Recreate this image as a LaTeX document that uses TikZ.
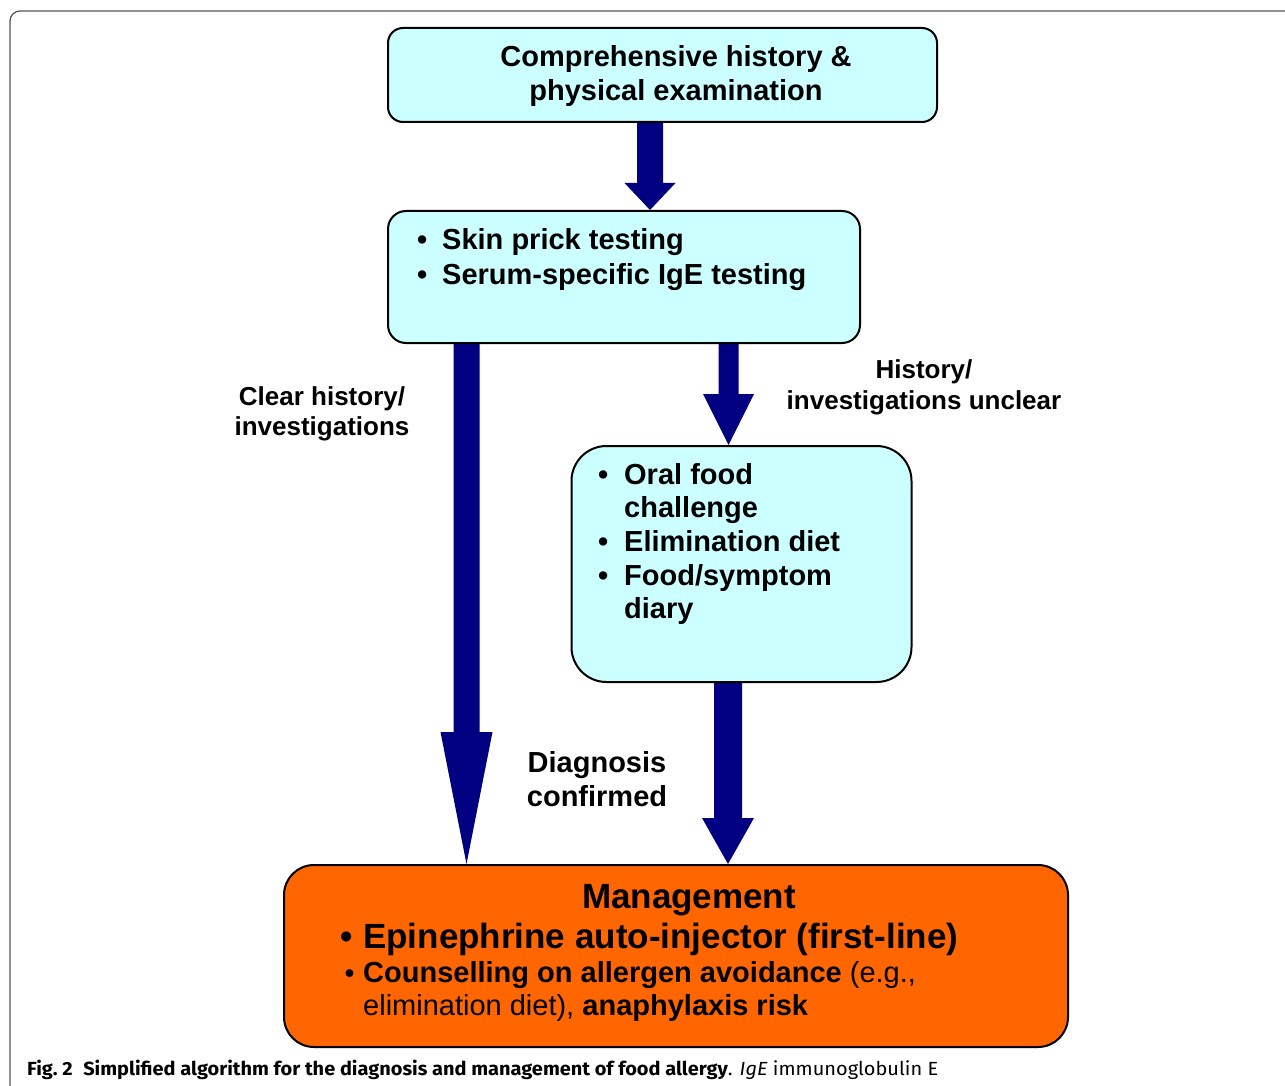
\documentclass[tikz,border=0pt]{standalone}
\usepackage{fontspec}
\setmainfont{Liberation Sans}
\newfontfamily\capfont{Fira Sans}
\usepackage{graphicx}
\usetikzlibrary{calc}
\definecolor{boxcyan}{HTML}{CCFFFF}
\definecolor{arrownavy}{HTML}{000080}
\definecolor{mgmtorange}{HTML}{FF6600}
\definecolor{framegray}{HTML}{555555}
\pgfdeclarelayer{bg}
\pgfsetlayers{bg,main}
\newcommand\fatarrow[6]{% x, from, to, shaft half, head half, head length
  \fill[arrownavy] let \p1=(#2), \p2=(#3) in
  (#1pt-#4pt,\y1) -- (#1pt+#4pt,\y1) -- (#1pt+#4pt,\y2+#6pt) -- (#1pt+#5pt,\y2+#6pt)
  -- (#1pt,\y2) -- (#1pt-#5pt,\y2+#6pt) -- (#1pt-#4pt,\y2+#6pt) -- cycle;}
\newcommand\bulA{\llap{\textbullet\hspace{15pt}}}
\newcommand\bulB{\llap{\textbullet\hspace{16pt}}}
\tikzset{
  flowbox/.style={draw=black, line width=2pt, fill=boxcyan, inner sep=0pt},
  mgmtbox/.style={flowbox, fill=mgmtorange},
  boxtext/.style={font=\fontsize{29}{34}\selectfont\bfseries, inner sep=0pt, anchor=base west},
  centertext/.style={font=\fontsize{29}{34}\selectfont\bfseries, inner sep=0pt, anchor=base},
  labeltext/.style={font=\fontsize{26}{31}\selectfont\bfseries, inner sep=0pt, anchor=base},
  bigtext/.style={font=\fontsize{35}{40}\selectfont\bfseries, inner sep=0pt},
}
\begin{document}
\begin{tikzpicture}[x=1pt,y=-1pt]
\useasboundingbox (0,0) rectangle (1285,1086);
\begin{pgfonlayer}{bg}
\fill[white] (0,0) rectangle (1285,1086);
\end{pgfonlayer}
\draw[framegray, line width=1.3pt, rounded corners=10pt] (10,1086) -- (10,11) -- (1285,11);

% boxes
\node[flowbox, rounded corners=15pt, minimum width=549pt, minimum height=94pt] (hist) at (662.5,75) {};
\node[flowbox, rounded corners=18pt, minimum width=472pt, minimum height=132pt] (tests) at (624,277) {};
\node[flowbox, rounded corners=35pt, minimum width=340pt, minimum height=236pt] (ofc) at (741.5,564) {};
\node[mgmtbox, rounded corners=30pt, minimum width=784pt, minimum height=182pt] (mgmt) at (676,956) {};

% box texts
\node[centertext] (h1) at (676,67) {Comprehensive history \&};
\node[centertext] (h2) at (676,101) {physical examination};

\node[boxtext] (t1) at (442,249) {\bulA Skin prick testing};
\node[boxtext] (t2) at (442,284) {\bulA Serum-specific IgE testing};

\node[boxtext] (o1) at (624,484) {\bulB Oral food};
\node[boxtext] (o2) at (624,517) {challenge};
\node[boxtext] (o3) at (624,551) {\bulB Elimination diet};
\node[boxtext] (o4) at (624,585) {\bulB Food/symptom};
\node[boxtext] (o5) at (624,618) {diary};

\node[bigtext, anchor=base] (m0) at (689,908) {Management};
\node[bigtext, anchor=base west] (m1) at (363,948) {\llap{\textbullet\hspace{10pt}}Epinephrine auto-injector (first-line)};
\node[boxtext] (m2) at (363,982) {\llap{{\fontsize{27}{27}\selectfont\textbullet}\hspace{9pt}}Counselling on allergen avoidance \mdseries(e.g.,};
\node[boxtext] (m3) at (363,1015) {\mdseries elimination diet), \bfseries anaphylaxis risk};

% labels
\node[labeltext] (l1) at (322,405) {Clear history/};
\node[labeltext] (l2) at (322,435) {investigations};
\node[labeltext] (r1) at (924,378) {History/};
\node[labeltext] (r2) at (924,409) {investigations unclear};
\node[centertext] (d1) at (597,772) {Diagnosis};
\node[centertext] (d2) at (597,806) {confirmed};

% arrows
\begin{pgfonlayer}{bg}
\fatarrow{650}{hist.south}{tests.north}{13}{25.5}{27}
\fatarrow{466.5}{tests.south}{mgmt.north}{13}{26}{132}
\fatarrow{728.5}{tests.south}{ofc.north}{10}{25.5}{51}
\fatarrow{728}{ofc.south}{mgmt.north}{14}{26}{46}
\end{pgfonlayer}

% caption
\node[anchor=base west, inner sep=0pt, font=\capfont\fontsize{19}{22}\selectfont] (cap) at (27,1075)
  {\resizebox{911pt}{\height}{\textbf{Fig.~2\hspace{10pt}Simplified algorithm for the diagnosis and management of food allergy}. \textit{IgE} immunoglobulin E}};
\end{tikzpicture}
\end{document}
